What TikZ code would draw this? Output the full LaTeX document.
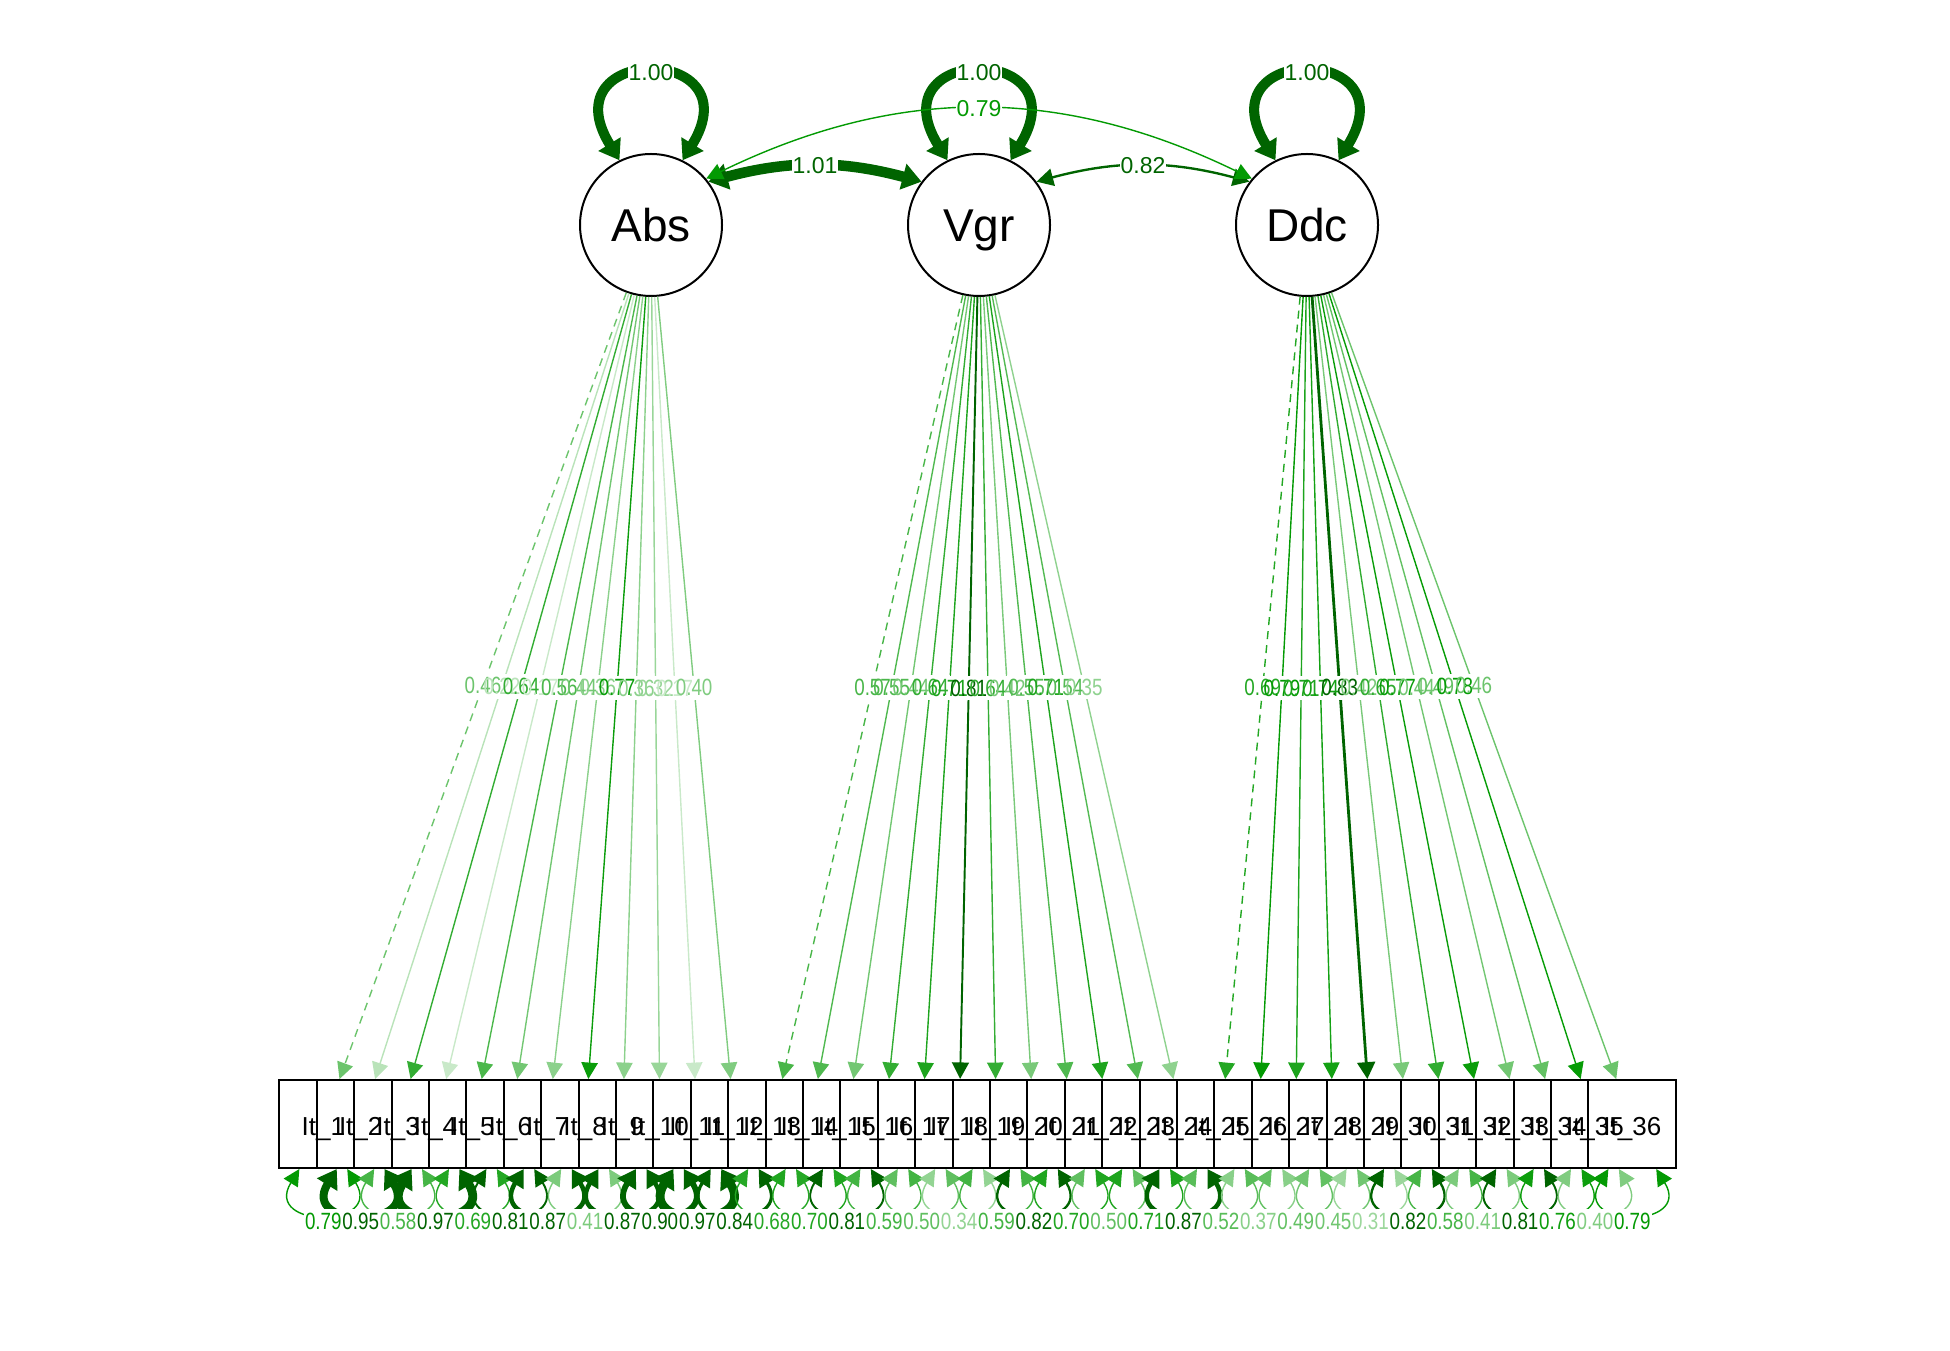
\documentclass[tikz,border=0pt]{standalone}
\usepackage{fontspec}
\setmainfont{Liberation Sans}
\newfontfamily\labelfont[FakeStretch=0.8]{Liberation Sans}
\usetikzlibrary{arrows.meta}
\definecolor{posgreen}{HTML}{009900}
\definecolor{deepgreen}{HTML}{006400}
\tikzset{
    edge-weight/.code={%
        \pgfmathsetmacro\fade{min(100,#1*125)}%
        \pgfmathtruncatemacro\isstrong{#1>0.795}%
        \ifnum\isstrong=1\relax
            \colorlet{ecol}{deepgreen}%
            \pgfmathsetmacro\ewid{1.5+(#1-0.8)*42.86}%
        \else
            \colorlet{ecol}{posgreen!\fade!white}%
            \def\ewid{1.4}%
        \fi
        \pgfkeysalso{line width=\ewid pt}},
    latent-circle/.style = {circle, draw, line width=2pt, fill=white, minimum size=142pt, inner sep=0pt, text height=33pt, text depth=0pt, font=\fontsize{46}{50}\selectfont},
    item-box/.style = {rectangle, draw, line width=2pt, fill=white, minimum width=88pt, minimum height=88pt, inner sep=0pt},
    item-text/.style = {font=\fontsize{26}{28}\selectfont, inner sep=0pt, anchor=base},
    load-arrow/.style = {-{Triangle[length=16pt 0.3, width=15pt 1]}},
    two-head/.style = {{Triangle[length=16pt 0.3, width=15pt 1]}-{Triangle[length=16pt 0.3, width=15pt 1]}},
    dash-load/.style = {dash pattern=on 8pt off 6pt},
    edge-label/.style = {font=\labelfont\fontsize{23.5}{25}\selectfont, inner xsep=1pt, inner ysep=4pt},
    edge-label-bg/.style = {edge-label, fill=white},
    top-label/.style = {font=\fontsize{23}{25}\selectfont, inner xsep=1pt, inner ysep=3pt},
    top-label-bg/.style = {top-label, fill=white},
}
% factor / item / loading / residual / line
\newcommand\itemdata{Abs/1/0.46/0.79/dash-load, Abs/2/0.22/0.95/solid, Abs/3/0.64/0.58/solid,
    Abs/4/0.17/0.97/solid, Abs/5/0.56/0.69/solid, Abs/6/0.44/0.81/solid, Abs/7/0.36/0.87/solid,
    Abs/8/0.77/0.41/solid, Abs/9/0.36/0.87/solid, Abs/10/0.32/0.90/solid, Abs/11/0.17/0.97/solid,
    Abs/12/0.40/0.84/solid,
    Vgr/13/0.57/0.68/dash-load, Vgr/14/0.55/0.70/solid, Vgr/15/0.44/0.81/solid, Vgr/16/0.64/0.59/solid,
    Vgr/17/0.71/0.50/solid, Vgr/18/0.81/0.34/solid, Vgr/19/0.64/0.59/solid, Vgr/20/0.42/0.82/solid,
    Vgr/21/0.55/0.70/solid, Vgr/22/0.71/0.50/solid, Vgr/23/0.54/0.71/solid, Vgr/24/0.35/0.87/solid,
    Ddc/25/0.69/0.52/dash-load, Ddc/26/0.79/0.37/solid, Ddc/27/0.71/0.49/solid, Ddc/28/0.74/0.45/solid,
    Ddc/29/0.83/0.31/solid, Ddc/30/0.42/0.82/solid, Ddc/31/0.65/0.58/solid, Ddc/32/0.77/0.41/solid,
    Ddc/33/0.44/0.81/solid, Ddc/34/0.49/0.76/solid, Ddc/35/0.78/0.40/solid, Ddc/36/0.46/0.79/solid}

\begin{document}
\begin{tikzpicture}[x=1pt, y=1pt]
\useasboundingbox (0,0) rectangle (1950,1350);

\node[latent-circle] (Abs) at (651,1125) {Abs};
\node[latent-circle] (Vgr) at (979,1125) {Vgr};
\node[latent-circle] (Ddc) at (1307,1125) {Ddc};

\foreach \i in {1,...,36}{
    \pgfmathsetmacro\x{323.3+(\i-1)*37.4}
    \node[item-box] (it\i) at (\x,226) {};
}

% loadings and residuals
\foreach \f/\i/\v/\r/\ls in \itemdata
    \draw[edge-weight=\v, draw=ecol, load-arrow, \ls] (\f) -- node[coordinate, pos=.5] (m\i) {} (it\i);
\foreach \f/\i/\v/\r/\ls in \itemdata
    \draw[edge-weight=\r, draw=ecol, two-head] (it\i.242) .. controls +(-37,-60) and +(37,-60) .. (it\i.298);

% variances and covariances
\foreach \n in {Abs,Vgr,Ddc}
    \draw[edge-weight=1.00, draw=ecol, two-head] (\n.116) .. controls +(-72,117) and +(72,117) .. node[coordinate, pos=.5] (\n-var) {} (\n.64);
\draw[edge-weight=1.01, draw=ecol, two-head] (Abs.37) to[out=15, in=165] node[coordinate, pos=.5] (cov-av) {} (Vgr.143);
\draw[edge-weight=0.82, draw=ecol, two-head] (Vgr.37) to[out=15, in=165] node[coordinate, pos=.5] (cov-vd) {} (Ddc.143);
\draw[edge-weight=0.79, draw=ecol, two-head] (Abs.40) to[out=26, in=154] node[coordinate, pos=.5] (cov-ad) {} (Ddc.140);

% label backgrounds first, then the texts
\foreach \f/\i/\v/\r/\ls in \itemdata {
    \node[edge-label-bg] (lbg\i) at (m\i) {\phantom{\v}};
    \node[edge-label-bg] (rbg\i) at ([yshift=-97pt]it\i.center) {\phantom{\r}};
}
\foreach \n in {Abs,Vgr,Ddc}
    \node[top-label-bg] (\n-vbg) at (\n-var) {\phantom{1.00}};
\node[top-label-bg] (av-bg) at (cov-av) {\phantom{1.01}};
\node[top-label-bg] (vd-bg) at (cov-vd) {\phantom{0.82}};
\node[top-label-bg] (ad-bg) at (cov-ad) {\phantom{0.79}};

\foreach \f/\i/\v/\r/\ls in \itemdata {
    \node[edge-label, edge-weight=\v, text=ecol] (lab\i) at (m\i) {\v};
    \node[edge-label, edge-weight=\r, text=ecol] (rlab\i) at ([yshift=-97pt]it\i.center) {\r};
}
\foreach \n in {Abs,Vgr,Ddc}
    \node[top-label, edge-weight=1.00, text=ecol] (\n-vlab) at (\n-var) {1.00};
\node[top-label, edge-weight=1.01, text=ecol] (av-lab) at (cov-av) {1.01};
\node[top-label, edge-weight=0.82, text=ecol] (vd-lab) at (cov-vd) {0.82};
\node[top-label, edge-weight=0.79, text=ecol] (ad-lab) at (cov-ad) {0.79};

\foreach \i in {1,...,36}
    \node[item-text] (tx\i) at ([yshift=-11.5pt]it\i.center) {It\_\i};
\end{tikzpicture}
\end{document}
